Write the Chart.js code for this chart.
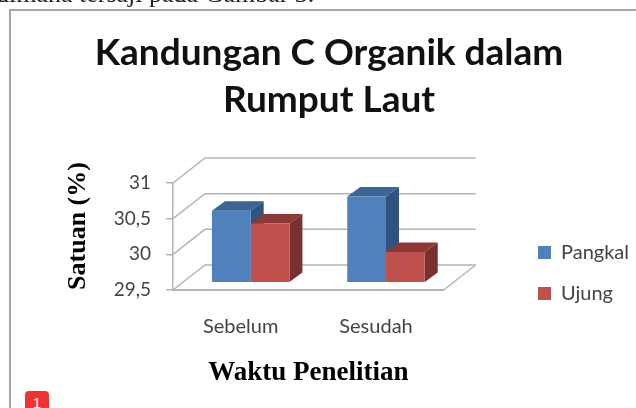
<!DOCTYPE html>
<html lang="en">
<head>
    <meta charset="UTF-8">
    <title>Kandungan C Organik dalam Rumput Laut</title>
    <style>
        body { margin: 0; background: #fff; width: 636px; height: 408px; overflow: hidden; position: relative; }
        #frame { position: absolute; left: 9px; top: 9px; width: 640px; height: 420px; border: 2px solid #a6a6a6; }
        #caption { position: absolute; left: -4px; top: -21px; font: 26px "Liberation Serif", serif; color: #222; white-space: nowrap; }
        #badge { position: absolute; left: 25px; top: 391px; width: 24px; height: 24px; border-radius: 4px; background: #ef3333; color: #fff; font: 15px "Liberation Sans", sans-serif; text-align: center; line-height: 24px; }
        canvas { position: absolute; left: 0; top: 0; }
    </style>
</head>
<body>
    <canvas id="carbonChart" width="636" height="408"></canvas>
    <div id="frame"></div>
    <div id="caption">dimana tersaji pada Gambar 3.</div>
    <div id="badge">1</div>

    <script src="https://cdn.jsdelivr.net/npm/chart.js"></script>
    <script>
        const categories = ['Sebelum', 'Sesudah'];
        const pangkal = [30.5, 30.7];
        const ujung = [30.32, 29.92];
        const yTicks = [29.5, 30, 30.5, 31];

        const blue = { front: '#4f81bd', top: '#3c6494', side: '#2f5380' };
        const red = { front: '#c0504d', top: '#8c3836', side: '#7a302e' };
        const gridColor = '#b4b4b4';

        // depth of the back wall, and where the bars stand inside it
        const wallDepth = { x: 32, y: -25 };
        const barShift = { x: 10, y: -8 };
        const barDepth = { x: 13, y: -9.5 };

        function poly(ctx, points, color) {
            ctx.fillStyle = color;
            ctx.beginPath();
            points.forEach((p, i) => i ? ctx.lineTo(p[0], p[1]) : ctx.moveTo(p[0], p[1]));
            ctx.closePath();
            ctx.fill();
        }

        const fake3d = {
            id: 'fake3d',
            afterLayout(chart) {
                // legend sits lower than the plot centre
                chart.legend.left = 517;
                chart.legend.top += 69;
                chart.legend.bottom += 69;
            },
            beforeDatasetsDraw(chart) {
                const { ctx, chartArea: area, scales } = chart;
                ctx.save();
                ctx.strokeStyle = gridColor;
                ctx.lineWidth = 1.5;
                scales.y.ticks.forEach(t => {
                    const y = scales.y.getPixelForValue(t.value);
                    ctx.beginPath();
                    ctx.moveTo(area.left, y);
                    ctx.lineTo(area.left + wallDepth.x, y + wallDepth.y);
                    ctx.lineTo(area.right + wallDepth.x, y + wallDepth.y);
                    ctx.stroke();
                });
                ctx.beginPath();
                ctx.moveTo(area.right, area.bottom);
                ctx.lineTo(area.right + wallDepth.x, area.bottom + wallDepth.y);
                ctx.stroke();
                ctx.restore();

                // top and side faces go first, the library paints the fronts over them
                ctx.save();
                ctx.translate(barShift.x, barShift.y);
                [blue, red].forEach((colors, i) => {
                    chart.getDatasetMeta(i).data.forEach(bar => {
                        const l = bar.x - bar.width / 2, r = bar.x + bar.width / 2;
                        const dx = barDepth.x, dy = barDepth.y;
                        poly(ctx, [[l, bar.y], [r, bar.y], [r + dx, bar.y + dy], [l + dx, bar.y + dy]], colors.top);
                        poly(ctx, [[r, bar.y], [r + dx, bar.y + dy], [r + dx, area.bottom + dy], [r, area.bottom]], colors.side);
                    });
                });
                ctx.restore();
            },
            beforeDatasetDraw(chart) {
                chart.ctx.save();
                chart.ctx.translate(barShift.x, barShift.y);
            },
            afterDatasetDraw(chart) {
                chart.ctx.restore();
            },
            afterDraw(chart) {
                const { ctx } = chart;
                ctx.save();
                ctx.fillStyle = '#000';
                ctx.font = 'bold 26px "Liberation Serif", serif';
                ctx.textAlign = 'center';
                ctx.textBaseline = 'middle';
                ctx.translate(78, 226);
                ctx.rotate(-Math.PI / 2);
                ctx.fillText('Satuan (%)', 0, 0);
                ctx.restore();
            }
        };

        new Chart(document.getElementById('carbonChart'), {
            type: 'bar',
            data: {
                labels: categories,
                datasets: [
                    { label: 'Pangkal', data: pangkal, backgroundColor: blue.front, categoryPercentage: 0.5725, barPercentage: 1 },
                    { label: 'Ujung', data: ujung, backgroundColor: red.front, categoryPercentage: 0.5725, barPercentage: 1 }
                ]
            },
            options: {
                responsive: false,
                animation: false,
                layout: { padding: { left: 22 } },
                plugins: {
                    tooltip: { enabled: false },
                    title: {
                        display: true,
                        text: ['Kandungan C Organik dalam', 'Rumput Laut'],
                        color: '#111',
                        font: { family: 'Lato', size: 37, weight: 'bold', lineHeight: 1.27 },
                        padding: { top: 30, bottom: 59 }
                    },
                    legend: {
                        position: 'right',
                        labels: {
                            boxWidth: 13,
                            boxHeight: 13,
                            padding: 21,
                            color: '#444',
                            font: { family: 'Lato', size: 20 }
                        }
                    }
                },
                scales: {
                    x: {
                        afterFit: s => { s.height = 118; },
                        grid: { display: false },
                        border: { display: true, color: gridColor, width: 2 },
                        ticks: { color: '#444', padding: 17, maxRotation: 0, font: { family: 'Lato', size: 20 } },
                        title: {
                            display: true,
                            text: 'Waktu Penelitian',
                            color: '#000',
                            font: { family: 'Liberation Serif', size: 27, weight: 'bold' },
                            padding: { top: 4, bottom: 19 }
                        }
                    },
                    y: {
                        min: 29.5,
                        max: 31,
                        afterBuildTicks: s => { s.ticks = yTicks.map(v => ({ value: v })); },
                        afterFit: s => { s.width = 151; },
                        grid: { drawOnChartArea: false, tickLength: 7, color: gridColor, lineWidth: 1.5 },
                        border: { display: true, color: gridColor, width: 1.5 },
                        ticks: {
                            color: '#444',
                            padding: 15,
                            autoSkip: false,
                            font: { family: 'Lato', size: 19 },
                            callback: v => String(v).replace('.', ',')
                        }
                    },
                    spacer: {
                        axis: 'y',
                        position: 'right',
                        display: true,
                        grid: { display: false },
                        border: { display: false },
                        ticks: { display: false },
                        afterFit: s => { s.width = 90; }
                    }
                }
            },
            plugins: [fake3d]
        });
    </script>
</body>
</html>
